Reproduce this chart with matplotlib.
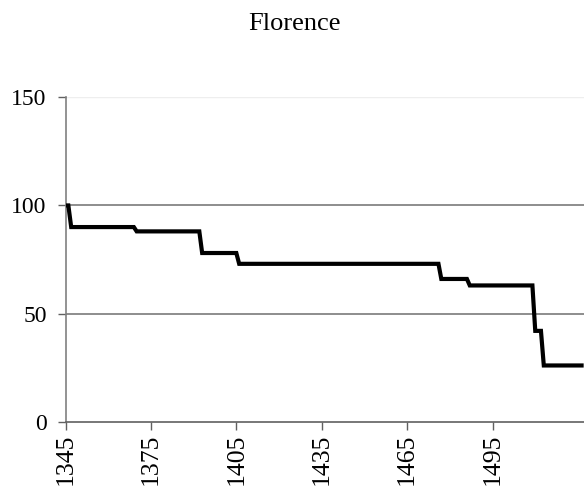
import matplotlib
matplotlib.use("Agg")
import matplotlib.pyplot as plt

title = "Florence"
# vertices of the annual series (year, index)
years = [1345, 1346, 1347, 1369, 1370, 1392, 1393, 1405, 1406, 1476, 1477,
         1486, 1487, 1509, 1510, 1512, 1513, 1527]
values = [100, 100, 90, 90, 88, 88, 78, 78, 73, 73, 66,
          66, 63, 63, 42, 42, 26, 26]
xticks = [1345, 1375, 1405, 1435, 1465, 1495]
yticks = [0, 50, 100, 150]

plt.rcParams['font.family'] = ['Liberation Serif', 'DejaVu Serif']

W, H = 584, 492
fig = plt.figure(figsize=(W / 100, H / 100), dpi=100)
left = 65.5 / W
bottom = 1 - 421.7 / H
top = 1 - 97.3 / H
ax = fig.add_axes([left, bottom, 1 - left, top - bottom])

ax.plot(years, values, color='black', linewidth=3.0, solid_joinstyle='miter',
        solid_capstyle='butt', zorder=3, clip_on=True)

ax.set_xlim(1345, 1345 + (W - 65.5) / 2.847)
ax.set_ylim(0, 150)
ax.set_xticks(xticks)
ax.set_xticklabels([str(x) for x in xticks], rotation=90, fontsize=18.5)
ax.set_yticks(yticks)
ax.set_yticklabels([str(y) for y in yticks], fontsize=17)

for y in [50, 100]:
    ax.axhline(y, color='#858585', linewidth=1.3, zorder=1)
ax.axhline(150, color='#eeeeee', linewidth=1.0, zorder=1)

for s in ['top', 'right']:
    ax.spines[s].set_visible(False)
for s in ['left', 'bottom']:
    ax.spines[s].set_color('#808080')
    ax.spines[s].set_linewidth(1.2)
ax.spines['bottom'].set_color('#606060')

ax.tick_params(axis='both', direction='out', length=5.5, width=1.0, color='#606060')
ax.tick_params(axis='y', pad=8)
ax.tick_params(axis='x', pad=3)

fig.text(0.505, 1 - 29.5 / H, title, ha='center', va='baseline', fontsize=19)

fig.savefig('out.png', dpi=100)
